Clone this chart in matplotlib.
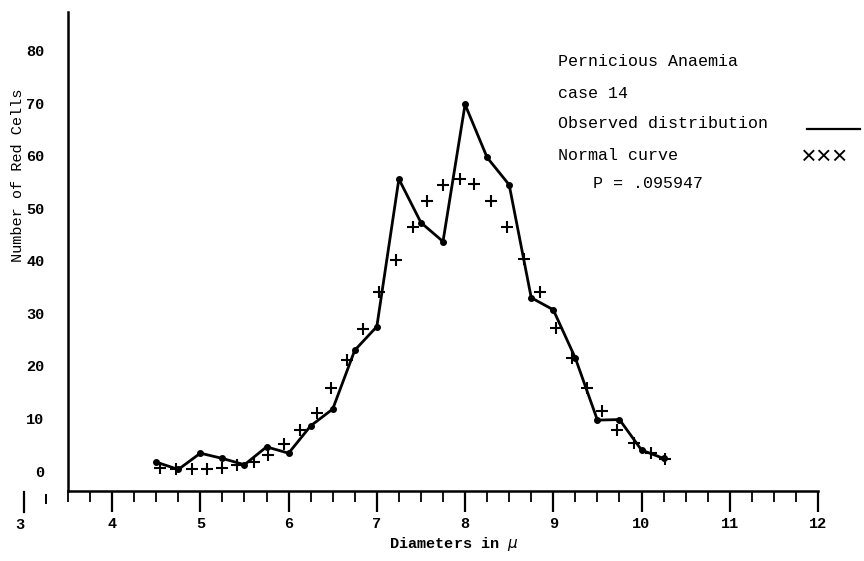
import matplotlib
matplotlib.use("Agg")
import matplotlib.pyplot as plt
from matplotlib.lines import Line2D
import numpy as np

# observed distribution (dots joined by a line)
obs_x = [4.5, 4.75, 5.0, 5.25, 5.5, 5.75, 6.0, 6.25, 6.5, 6.75, 7.0, 7.25,
         7.5, 7.75, 8.0, 8.25, 8.5, 8.75, 9.0, 9.25, 9.5, 9.75, 10.0, 10.25]
obs_y = [1.7, 0.3, 3.4, 2.4, 1.2, 4.6, 3.4, 8.6, 11.8, 23.0, 27.5, 55.6,
         47.3, 43.7, 69.8, 59.7, 54.5, 33.0, 30.7, 21.5, 9.7, 9.8, 4.0, 2.4]

# normal curve (crosses)
norm_x = [4.54, 4.72, 4.90, 5.07, 5.24, 5.42, 5.61, 5.77, 5.95, 6.13, 6.32,
          6.48, 6.66, 6.84, 7.02, 7.22, 7.41, 7.57, 7.75, 7.94, 8.10, 8.29,
          8.47, 8.67, 8.85, 9.03, 9.21, 9.38, 9.55, 9.72, 9.92, 10.11, 10.27]
norm_y = [0.5, 0.4, 0.4, 0.4, 0.6, 1.1, 1.7, 3.0, 5.1, 7.9, 11.1,
          15.8, 21.1, 27.1, 34.0, 40.2, 46.5, 51.4, 54.5, 55.6, 54.7, 51.5,
          46.4, 40.4, 34.0, 27.2, 21.5, 15.9, 11.4, 7.9, 5.4, 3.5, 2.2]

y_ticks = [0, 10, 20, 30, 40, 50, 60, 70, 80]
x_ticks = [4, 5, 6, 7, 8, 9, 10, 11, 12]

mono = "Liberation Mono"
W, H = 864, 561

fig = plt.figure(figsize=(8.64, 5.61), dpi=100)
ax = fig.add_axes([68 / W, 1 - 491 / H, (818 - 68) / W, (491 - 12) / H])

ax.plot(obs_x, obs_y, color="black", lw=2.0, marker="o", ms=4, zorder=3)
ax.plot(norm_x, norm_y, ls="none", marker="+", ms=8, mew=1.5, color="black", zorder=2)

ax.set_xlim(3.5, 12)
ax.set_ylim(-3.8, 87.4)

for s in ["top", "right"]:
    ax.spines[s].set_visible(False)
for s in ["left", "bottom"]:
    ax.spines[s].set_linewidth(1.8)

ax.set_xticks(x_ticks)
ax.set_xticks(np.arange(3.5, 12.01, 0.25), minor=True)
ax.tick_params(axis="x", which="major", direction="out", length=15, width=1.6, pad=4)
ax.tick_params(axis="x", which="minor", direction="out", length=8, width=1.3)
ax.set_yticks(y_ticks)
ax.tick_params(axis="y", length=0, pad=17)

for lab in ax.get_xticklabels() + ax.get_yticklabels():
    lab.set_fontfamily(mono)
    lab.set_fontweight("bold")
    lab.set_fontsize(11)

# stray marks left of the axis at 3 and 3.25
tr = ax.get_xaxis_transform()
ax.plot([3, 3], [-0.002, -0.044], color="black", lw=1.6, transform=tr, clip_on=False)
ax.plot([3.25, 3.25], [-0.008, -0.026], color="black", lw=1.4, transform=tr, clip_on=False)
ax.text(2.95, -0.07, "3", transform=tr, ha="center", va="center",
        fontfamily=mono, fontweight="bold", fontsize=11)

ax.set_xlabel("Diameters in $\\mu$", fontfamily=mono, fontweight="bold", fontsize=11)
ax.xaxis.set_label_coords(0.515, -0.092)
ax.set_ylabel("Number of Red Cells", fontfamily=mono, fontsize=11)
ax.yaxis.set_label_coords(-0.057, 0.66)

# legend block typed at the upper right
def ftext(x, y, s, **kw):
    fig.text(x / W, 1 - y / H, s, ha="left", va="center", fontfamily=mono,
             fontsize=kw.pop("size", 12), **kw)

ftext(558, 62, "Pernicious Anaemia")
ftext(558, 93, "case 14")
ftext(558, 123, "Observed distribution")
ftext(558, 156, "Normal curve")
ftext(593, 184, "P = .095947")
fig.add_artist(Line2D([807 / W, 860 / W], [1 - 129 / H, 1 - 129 / H], color="black", lw=1.6))
ftext(801, 157, "\u00d7\u00d7\u00d7", size=19)

fig.savefig("out.png", dpi=100)
